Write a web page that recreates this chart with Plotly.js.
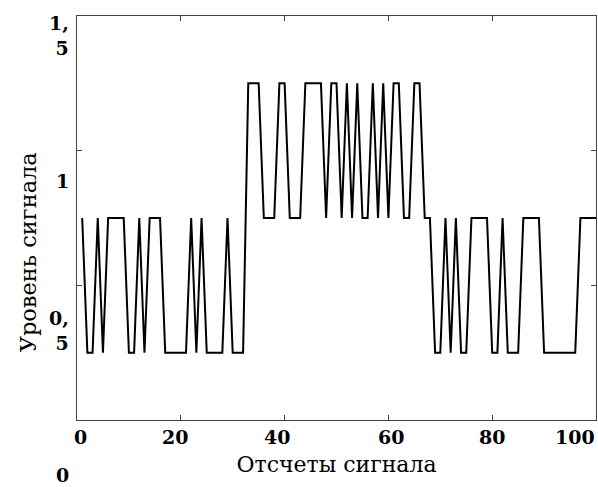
<!DOCTYPE html>
<html>
<head>
<meta charset="utf-8">
<script src="https://cdn.plot.ly/plotly-3.0.1.min.js"></script>
<style>html,body{margin:0;padding:0;background:#fff;}</style>
</head>
<body>
<div id="chart" style="width:598px;height:487px;"></div>
<script>
// Sample index (Отсчеты сигнала)
const samples = [
  1, 2, 3, 4, 5, 6, 7, 8, 9, 10,
  11, 12, 13, 14, 15, 16, 17, 18, 19, 20,
  21, 22, 23, 24, 25, 26, 27, 28, 29, 30,
  31, 32, 33, 34, 35, 36, 37, 38, 39, 40,
  41, 42, 43, 44, 45, 46, 47, 48, 49, 50,
  51, 52, 53, 54, 55, 56, 57, 58, 59, 60,
  61, 62, 63, 64, 65, 66, 67, 68, 69, 70,
  71, 72, 73, 74, 75, 76, 77, 78, 79, 80,
  81, 82, 83, 84, 85, 86, 87, 88, 89, 90,
  91, 92, 93, 94, 95, 96, 97, 98, 99, 100
];
// Signal level (Уровень сигнала)
const levels = [
  0.75, 0.25, 0.25, 0.75, 0.25, 0.75, 0.75, 0.75, 0.75, 0.25,
  0.25, 0.75, 0.25, 0.75, 0.75, 0.75, 0.25, 0.25, 0.25, 0.25,
  0.25, 0.75, 0.25, 0.75, 0.25, 0.25, 0.25, 0.25, 0.75, 0.25,
  0.25, 0.25, 1.25, 1.25, 1.25, 0.75, 0.75, 0.75, 1.25, 1.25,
  0.75, 0.75, 0.75, 1.25, 1.25, 1.25, 1.25, 0.75, 1.25, 1.25,
  0.75, 1.25, 0.75, 1.25, 0.75, 0.75, 1.25, 0.75, 1.25, 0.75,
  1.25, 1.25, 0.75, 0.75, 1.25, 1.25, 0.75, 0.75, 0.25, 0.25,
  0.75, 0.25, 0.75, 0.25, 0.25, 0.75, 0.75, 0.75, 0.75, 0.25,
  0.25, 0.75, 0.25, 0.25, 0.25, 0.75, 0.75, 0.75, 0.75, 0.25,
  0.25, 0.25, 0.25, 0.25, 0.25, 0.25, 0.75, 0.75, 0.75, 0.75
];
const xTickVals = [0, 20, 40, 60, 80, 100];
const xTickText = ['0', '20', '40', '60', '80', '100'];
const yTickVals = [1.5, 1, 0.5, 0];
const yTickText = ['1,<br>5', '1', '0,<br>5', '0'];
const xTitle = 'Отсчеты сигнала';
const yTitle = 'Уровень сигнала';

// label placement offsets (layout only)
const xLabelShift = [3, -6, -8, 3, 0, -21];
const yLabelShift = [-19, -30, -45, -55];

const FONT = '"DejaVu Serif", "Liberation Serif", serif';
const tickFont = {family: FONT, size: 19, color: '#000', weight: 'bold'};

const annotations = [];
xTickVals.forEach((v, i) => {
  annotations.push({
    x: v, xref: 'x', y: 0, yref: 'paper',
    text: xTickText[i], showarrow: false,
    xanchor: 'center', yanchor: 'middle',
    xshift: xLabelShift[i], yshift: -17,
    font: tickFont
  });
});
yTickVals.forEach((v, i) => {
  annotations.push({
    x: 0, xref: 'paper', y: v, yref: 'y',
    text: yTickText[i], showarrow: false,
    xanchor: 'right', yanchor: 'middle', align: 'right',
    xshift: -6, yshift: yLabelShift[i],
    font: tickFont
  });
});
annotations.push({
  x: 0, xref: 'paper', y: 0.415, yref: 'paper',
  text: yTitle, showarrow: false, textangle: -90,
  xanchor: 'center', yanchor: 'middle', xshift: -49,
  font: {family: FONT, size: 22.5, color: '#000'}
});

const trace = {
  x: samples, y: levels, type: 'scatter', mode: 'lines',
  line: {color: '#000', width: 2},
  hoverinfo: 'x+y'
};

const axisCommon = {
  showline: true, linecolor: '#444', linewidth: 1, mirror: 'ticks',
  ticks: 'inside', ticklen: 5, tickcolor: '#444', tickwidth: 1,
  showgrid: false, zeroline: false, showticklabels: false,
  tickmode: 'array'
};

const layout = {
  width: 598, height: 487,
  margin: {l: 77, r: 2, t: 16, b: 67},
  paper_bgcolor: '#fff', plot_bgcolor: '#fff',
  showlegend: false,
  xaxis: Object.assign({}, axisCommon, {
    range: [0, 100], tickvals: xTickVals,
    title: {text: xTitle, standoff: 36, font: {family: FONT, size: 22, color: '#000'}}
  }),
  yaxis: Object.assign({}, axisCommon, {
    range: [0, 1.5], tickvals: yTickVals
  }),
  annotations: annotations
};

Plotly.newPlot('chart', [trace], layout, {displayModeBar: false, staticPlot: true});
</script>
</body>
</html>
